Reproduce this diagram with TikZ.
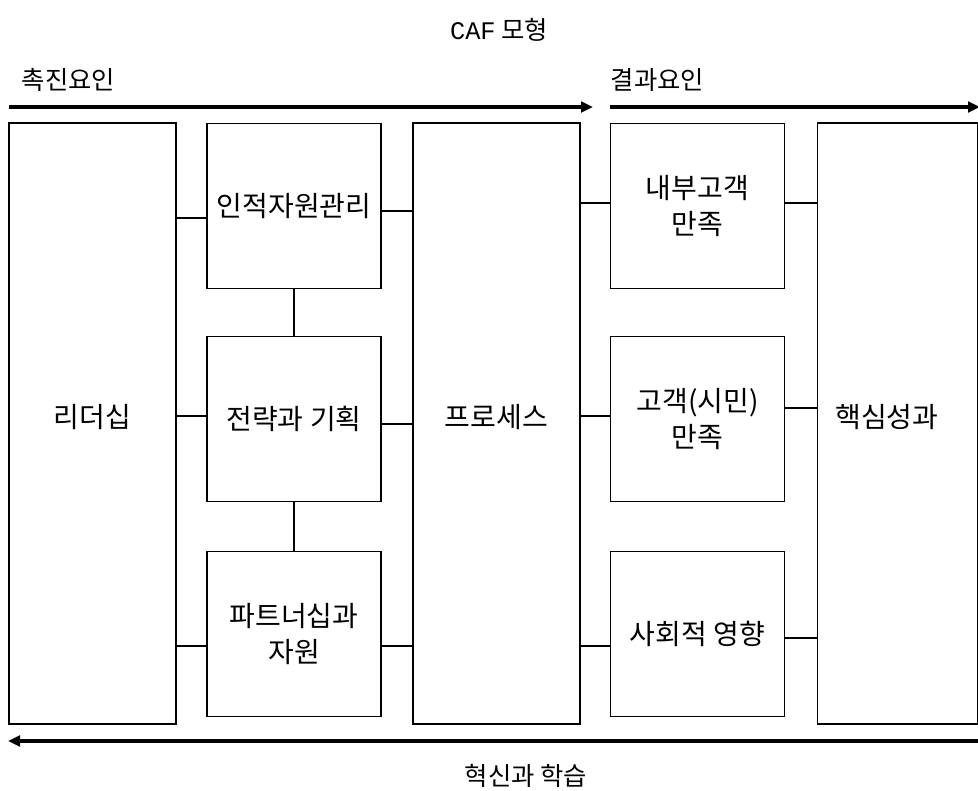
\documentclass[tikz,border=0pt]{standalone}
\usepackage{fontspec}
\setmainfont{Noto Sans CJK KR}
\newfontfamily\cafmono{Liberation Mono}
\usepackage{tikz}
\usetikzlibrary{arrows.meta}

\begin{document}
\begin{tikzpicture}[x=0.75pt, y=-0.75pt,
	font=\fontsize{19pt}{24pt}\selectfont,
	boxtext/.style={font=\fontsize{21pt}{27pt}\selectfont},
	tallbox/.style={draw=black, line width=0.8pt, minimum width=125.25pt, minimum height=450.75pt, inner sep=0pt},
	smallbox/.style={draw=black, line width=0.8pt, minimum width=130.5pt, minimum height=124pt, inner sep=0pt, align=center, boxtext},
	link/.style={line width=1.6pt},
	flow/.style={line width=3pt, -{Triangle[length=9pt, width=8pt]}}]

	\useasboundingbox (0,0) rectangle (978,791);

	\node (title) at (499, 30)     {{\cafmono CAF} 모형};
	\node[anchor=west] (drive) at (17, 80)     {촉진요인};
	\node[anchor=west] (result) at (606, 80)     {결과요인};
	\node (learn) at (526, 776)     {혁신과 학습};

	\node[tallbox, label={[yshift=5pt, boxtext]center:리더십}] (lead) at (92.5, 423.5)     {};
	\node[smallbox] (hr) at (294, 206)     {인적자원관리};
	\node[smallbox] (strat) at (294, 419)     {전략과 기획};
	\node[smallbox] (part) at (294, 634)     {파트너십과\\자원};
	\node[tallbox, label={[yshift=5pt, boxtext]center:프로세스}] (proc) at (496.5, 423.5)     {};
	\node[smallbox] (inner) at (697.5, 206)     {내부고객\\만족};
	\node[smallbox] (cust) at (697.5, 419)     {고객(시민)\\만족};
	\node[smallbox] (soc) at (697.5, 634)     {사회적 영향};
	\node[tallbox, minimum width=120pt, label={[xshift=-8pt, yshift=5pt, boxtext]center:핵심성과}] (core) at (897.5, 423.5)     {};

	\coordinate (d1) at (9, 107);
	\coordinate (d2) at (593, 107);
	\coordinate (r1) at (610, 107);
	\coordinate (r2) at (980, 107);
	\coordinate (l1) at (980, 741);
	\coordinate (l2) at (8, 741);

	\path[flow] (d1) edge (d2);
	\path[flow] (r1) edge (r2);
	\path[flow] (l1) edge (l2);

	\path[link] (lead.east |- 0,218) edge (hr.west |- 0,218);
	\path[link] (lead.east |- 0,416) edge (strat.west |- 0,416);
	\path[link] (lead.east |- 0,646) edge (part.west |- 0,646);

	\path[link] (hr) edge (strat);
	\path[link] (strat) edge (part);

	\path[link] (hr.east |- 0,211) edge (proc.west |- 0,211);
	\path[link] (strat.east |- 0,424) edge (proc.west |- 0,424);
	\path[link] (part.east |- 0,646) edge (proc.west |- 0,646);

	\path[link] (proc.east |- 0,203) edge (inner.west |- 0,203);
	\path[link] (proc.east |- 0,416) edge (cust.west |- 0,416);
	\path[link] (proc.east |- 0,646) edge (soc.west |- 0,646);

	\path[link] (inner.east |- 0,203) edge (core.west |- 0,203);
	\path[link] (cust.east |- 0,408) edge (core.west |- 0,408);
	\path[link] (soc.east |- 0,638) edge (core.west |- 0,638);

\end{tikzpicture}
\end{document}
